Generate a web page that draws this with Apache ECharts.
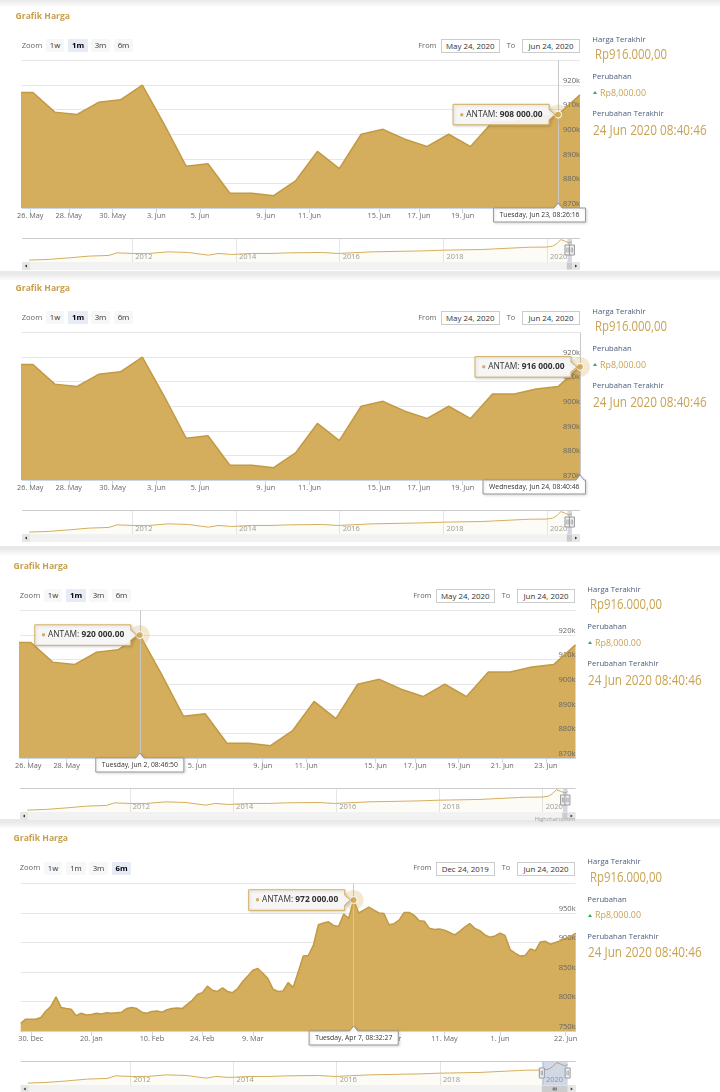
<!DOCTYPE html>
<html>
<head>
<meta charset="utf-8">
<title>Grafik Harga</title>
<script src="https://cdn.jsdelivr.net/npm/echarts@6/dist/echarts.min.js"></script>
<style>
  html, body { margin:0; padding:0; width:720px; height:1092px; overflow:hidden; background:#e9e9e9; font-family:"Open Sans", sans-serif; }
  .card { position:absolute; left:0; width:720px; background:#fff; overflow:hidden; }
  .shade { position:absolute; left:0; top:0; width:720px; height:7px; background:linear-gradient(#e9e9e9, rgba(255,255,255,0)); }
  .layer { position:absolute; left:0; width:720px; height:272px; }
  .chart { position:absolute; left:0; top:0; width:600px; height:272px; }
  .t { position:absolute; white-space:nowrap; line-height:1; transform:translateY(-50%); transform-origin:0 50%; }
  .btn { position:absolute; height:13px; line-height:13px; text-align:center; font-size:7.8px; color:#333; background:#f7f7f7; border-radius:1px; }
  .btn.sel { background:#e6ebf5; font-weight:bold; color:#000; }
  .inp { position:absolute; height:12px; line-height:12px; border:1px solid #cccccc; text-align:center; font-size:7.9px; color:#333; background:#fff; }
  .tri { position:absolute; width:0; height:0; border-left:2.5px solid transparent; border-right:2.5px solid transparent; border-bottom:3.5px solid #2fa84f; }
</style>
</head>
<body>
<script>
// ---------------- data ----------------
const PUBLISH_TIME = '08:40:00';
const dates1m = ['2020-05-23','2020-05-26','2020-05-27','2020-05-28','2020-05-29','2020-05-30','2020-06-02','2020-06-03','2020-06-04','2020-06-05','2020-06-06','2020-06-08','2020-06-09','2020-06-10','2020-06-11','2020-06-12','2020-06-13','2020-06-15','2020-06-16','2020-06-17','2020-06-18','2020-06-19','2020-06-20','2020-06-21','2020-06-22','2020-06-23','2020-06-24'];
const values1m = [917000,917000,909000,908000,913000,914000,920000,904000,887000,888000,876000,876000,875000,881000,893000,886000,900000,902000,898000,895000,900000,895000,905000,905000,907000,908000,916000];
const tickDates1m = ['2020-05-26','2020-05-28','2020-05-30','2020-06-03','2020-06-05','2020-06-09','2020-06-11','2020-06-15','2020-06-17','2020-06-19','2020-06-21','2020-06-23'];

const values6m = [763,770,770,770,773,784,792,808,790,788,
  787,776,780,777,778,780,779,781,780,781,
  782,788,790,788,782,780,783,784,782,786,
  788,789,788,795,802,812,815,826,819,817,
  823,817,815,822,834,843,853,856,848,839,
  821,817,818,832,824,850,877,878,895,930,
  933,935,929,927,948,941,972,950,955,960,
  955,950,949,930,932,938,951,951,946,937,
  936,924,922,923,921,917,913,919,926,932,
  924,920,913,909,911,916,912,888,882,877,
  878,889,886,901,902,897,900,903,907,910,916].map(v => v * 1000);
const ticks6mIndex = [2,14,26,36,46,60,73,84,95,108];
const ticks6mLabels = ['30. Dec','20. Jan','10. Feb','24. Feb','9. Mar','30. Mar','20. Apr','11. May','1. Jun','22. Jun'];

const navDates = ['2010-01-05','2010-05-20','2010-10-15','2011-03-01','2011-07-20','2011-09-15','2012-01-02','2012-04-25','2012-09-12','2013-02-01','2013-06-20','2013-08-28','2013-12-01','2014-04-20','2014-09-10','2015-01-05','2015-08-25','2015-12-20','2016-08-20','2017-08-10','2018-01-02','2018-10-05','2019-07-20','2019-09-05','2019-12-24','2020-02-10','2020-03-09','2020-03-20','2020-04-07','2020-04-20','2020-05-11','2020-06-05','2020-06-24'];
const navValues = [403,422,466,513,532,603,587,587,631,614,540,587,559,587,587,603,614,587,631,658,678,697,752,760,763,790,856,820,972,950,921,877,916].map(v => v * 1000);
const navYears = [2012, 2014, 2016, 2018, 2020];

const zoomButtons = ['1w','1m','3m','6m'];
const info = {
  lastPriceLabel: 'Harga Terakhir', lastPrice: 'Rp916.000,00',
  changeLabel: 'Perubahan', change: 'Rp8,000.00',
  lastChangeLabel: 'Perubahan Terakhir', lastChange: '24 Jun 2020 08:40:46'
};
const seriesName = 'ANTAM';

// screenshots (layout of each stacked capture)
const panels = [
  { card:[0,271], off:0, left:22, right:580, dxL:0, dxR:0, range:'1m', from:'May 24, 2020', to:'Jun 24, 2020', sel:'1m', navFrom:'2020-05-24', navTo:'2020-06-24', hover:{ i:25, time:'08:26:16' } },
  { card:[274,546], off:272, left:22, right:580, dxL:0, dxR:0, range:'1m', from:'May 24, 2020', to:'Jun 24, 2020', sel:'1m', navFrom:'2020-05-24', navTo:'2020-06-24', hover:{ i:26, time:'08:40:46' } },
  { card:[549,819], off:550, left:20, right:575.5, dxL:-2, dxR:-5, range:'1m', from:'May 24, 2020', to:'Jun 24, 2020', sel:'1m', navFrom:'2020-05-24', navTo:'2020-06-24', hover:{ i:6, time:'08:46:50' }, credit:true },
  { card:[822,1092], off:822.5, left:20.7, right:575.7, dxL:-2, dxR:-5, range:'6m', from:'Dec 24, 2019', to:'Jun 24, 2020', sel:'6m', navFrom:'2019-12-24', navTo:'2020-06-24', hover:{ i:66, date:'2020-04-07', time:'08:32:27' } }
];

// ---------------- helpers ----------------
const FONT = '"Open Sans", sans-serif';
const GOLD = '#d4ae5c', GOLD_LINE = '#c29a44', TEXT_GOLD = '#c9a352', LABEL_BLUE = '#4b5a79';
const DAYS = ['Sunday','Monday','Tuesday','Wednesday','Thursday','Friday','Saturday'];
const MON = ['Jan','Feb','Mar','Apr','May','Jun','Jul','Aug','Sep','Oct','Nov','Dec'];
const utc = s => Date.parse(s + 'T00:00:00Z');
const tickText = s => { const d = new Date(utc(s)); return d.getUTCDate() + '. ' + MON[d.getUTCMonth()]; };
const hcDate = (s, time) => { const d = new Date(utc(s)); return DAYS[d.getUTCDay()] + ', ' + MON[d.getUTCMonth()] + ' ' + d.getUTCDate() + ', ' + time; };
const fmtVal = v => Math.round(v).toString().replace(/\B(?=(\d{3})+(?!\d))/g, ' ') + '.00';
function ordinalPos(s) {
  const t = utc(s);
  for (let i = 0; i < dates1m.length - 1; i++) {
    const a = Date.parse(dates1m[i] + 'T' + PUBLISH_TIME + 'Z');
    const b = Date.parse(dates1m[i + 1] + 'T' + PUBLISH_TIME + 'Z');
    if (t >= a && t < b) return i + (t - a) / (b - a);
  }
  return null;
}
const mctx = document.createElement('canvas').getContext('2d');
function tw(text, size, weight) { mctx.font = (weight || 'normal') + ' ' + size + 'px ' + FONT; return mctx.measureText(text).width; }

function addText(parent, x, y, text, css, scale) {
  const d = document.createElement('div');
  d.className = 't';
  d.style.left = x + 'px'; d.style.top = y + 'px';
  Object.assign(d.style, css || {});
  if (scale) d.style.transform = 'translateY(-50%) scaleX(' + scale + ')';
  d.textContent = text;
  parent.appendChild(d);
  return d;
}

// ---------------- build ----------------
const NAV_MIN = utc('2009-11-15'), NAV_MAX = utc('2020-08-20');
const NAV_YMIN = 350000, NAV_YMAX = 1015000;
const navData = navDates.map((d, i) => [utc(d), navValues[i]]);
const navYearTs = navYears.map(y => Date.UTC(y, 0, 1));

panels.forEach(p => {
  const card = document.createElement('div');
  card.className = 'card';
  card.style.top = p.card[0] + 'px';
  card.style.height = (p.card[1] - p.card[0]) + 'px';
  const sh = document.createElement('div'); sh.className = 'shade'; card.appendChild(sh);
  document.body.appendChild(card);

  const layer = document.createElement('div');
  layer.className = 'layer';
  layer.style.top = p.off + 'px';
  document.body.appendChild(layer);

  const chartDiv = document.createElement('div');
  chartDiv.className = 'chart';
  layer.appendChild(chartDiv);

  // header texts
  addText(layer, 15.5 + p.dxL, 15.5, 'Grafik Harga', { fontSize:'8.6px', fontWeight:'bold', color:'#c9a04b' });
  addText(layer, 21.7 + p.dxL, 45.6, 'Zoom', { fontSize:'7.6px', color:'#666' });
  const bx = [45.7, 68.3, 91, 113.7], bw = [18.6, 19.4, 19, 19.6];
  zoomButtons.forEach((b, i) => {
    const e = document.createElement('div');
    e.className = 'btn' + (b === p.sel ? ' sel' : '');
    e.style.left = (bx[i] + p.dxL) + 'px'; e.style.top = '39.3px'; e.style.width = bw[i] + 'px';
    e.textContent = b;
    layer.appendChild(e);
  });
  addText(layer, 418.3 + p.dxR, 45.6, 'From', { fontSize:'7.4px', color:'#666' });
  addText(layer, 506.7 + p.dxR, 45.6, 'To', { fontSize:'7.4px', color:'#666' });
  [[441 + p.dxR, p.from], [521.7 + p.dxR, p.to]].forEach(([x, s]) => {
    const e = document.createElement('div');
    e.className = 'inp';
    e.style.left = x + 'px'; e.style.top = '39px'; e.style.width = '56.5px';
    e.textContent = s;
    layer.appendChild(e);
  });
  // right info column
  const rx = 592.3 + p.dxR;
  addText(layer, rx, 39.7, info.lastPriceLabel, { fontSize:'7.7px', color:LABEL_BLUE });
  addText(layer, rx + 2.4, 54, info.lastPrice, { fontSize:'14.4px', color:TEXT_GOLD }, 0.79);
  addText(layer, rx, 77.3, info.changeLabel, { fontSize:'7.7px', color:LABEL_BLUE });
  const tri = document.createElement('div'); tri.className = 'tri';
  tri.style.left = (rx + 0.7) + 'px'; tri.style.top = '91px'; layer.appendChild(tri);
  addText(layer, rx + 7.7, 92.8, info.change, { fontSize:'8.9px', color:TEXT_GOLD });
  addText(layer, rx, 114.3, info.lastChangeLabel, { fontSize:'7.7px', color:LABEL_BLUE });
  addText(layer, rx + 0.4, 129.5, info.lastChange, { fontSize:'14px', color:TEXT_GOLD }, 0.84);
  if (p.credit) {
    const c = addText(layer, 0, 269.5, 'Highcharts.com', { fontSize:'5.6px', color:'#999' });
    c.style.left = 'auto'; c.style.right = (720 - p.right) + 'px';
  }

  // chart
  const is6m = p.range === '6m';
  const vals = is6m ? values6m : values1m;
  const data = vals.map((v, i) => [i, v]);
  const ticks = is6m
    ? ticks6mIndex.map((k, i) => ({ v:k, t:ticks6mLabels[i] }))
    : tickDates1m.map(d => ({ v:ordinalPos(d), t:tickText(d) }));
  const xMin = is6m ? 0 : 0.5, xMax = vals.length - 1;
  const yMin = is6m ? 750000 : 870000, yMax = is6m ? 1000000 : 930000, yInt = is6m ? 50000 : 10000;
  const hx = p.hover.i, hv = vals[hx];
  const hoverDate = is6m ? p.hover.date : dates1m[hx];
  const dateText = hcDate(hoverDate, p.hover.time);
  const valueText = fmtVal(hv);
  const W = p.right - p.left;

  const chart = echarts.init(chartDiv, null, { renderer:'canvas' });
  chart.setOption({
    animation:false,
    textStyle:{ fontFamily:FONT },
    grid:[
      { left:p.left, top:60.5, width:W, height:147.5 },
      { left:p.left, top:238, width:W, height:24 }
    ],
    xAxis:[
      { type:'value', gridIndex:0, min:xMin, max:xMax, z:3,
        axisLine:{ lineStyle:{ color:'#ccd6eb', width:1 } },
        splitLine:{ show:false },
        axisTick:{ customValues:ticks.map(t => t.v), length:5, lineStyle:{ color:'#ccd6eb' } },
        axisLabel:{ customValues:ticks.map(t => t.v), color:'#666', fontSize:7.3, margin:4.5,
          formatter:v => { const t = ticks.find(q => Math.abs(q.v - v) < 1e-6); return t ? t.t : ''; } } },
      { type:'value', gridIndex:1, min:NAV_MIN, max:NAV_MAX,
        axisLine:{ show:false },
        axisTick:{ show:false, customValues:navYearTs },
        splitLine:{ show:true, lineStyle:{ color:'#e6e6e6' } },
        axisLabel:{ inside:true, customValues:navYearTs, align:'left', padding:[0,0,0,3],
          margin:1.5, color:'#999', fontSize:7.5, formatter:v => String(new Date(v).getUTCFullYear()) } }
    ],
    yAxis:[
      { type:'value', gridIndex:0, min:yMin, max:yMax, interval:yInt, position:'right',
        axisLine:{ show:false }, axisTick:{ show:false }, axisLabel:{ show:false },
        splitLine:{ lineStyle:{ color:'#e6e6e6' } } },
      { type:'value', gridIndex:0, min:yMin, max:yMax, interval:yInt, position:'right', z:3,
        axisLine:{ show:false }, axisTick:{ show:false }, splitLine:{ show:false },
        axisLabel:{ inside:true, align:'right', verticalAlign:'bottom', margin:0, color:'#666', fontSize:7.6, lineHeight:9,
          formatter:v => v >= yMax ? '' : (v / 1000) + 'k' } },
      { type:'value', gridIndex:1, min:NAV_YMIN, max:NAV_YMAX, show:false }
    ],
    series:[
      { type:'line', name:seriesName, xAxisIndex:0, yAxisIndex:0, data:data, symbol:'none', silent:true,
        lineStyle:{ color:GOLD_LINE, width:1.5 },
        areaStyle:{ color:GOLD, opacity:1, origin:'start' },
        markLine:{ silent:true, symbol:['none','none'], label:{ show:false },
          lineStyle:{ color:'#c8c8c8', width:1, type:'solid' }, data:[{ xAxis:hx }] },
        markPoint:{ silent:true, label:{ show:false },
          data:[
            { coord:[hx, hv], symbol:'circle', symbolSize:20, itemStyle:{ color:'rgba(212,174,92,0.28)' } },
            { coord:[hx, hv], symbol:'circle', symbolSize:7, itemStyle:{ color:GOLD, borderColor:'#fff', borderWidth:1 } }
          ] } },
      { type:'line', xAxisIndex:1, yAxisIndex:2, data:navData, symbol:'none', silent:true,
        lineStyle:{ color:GOLD, width:1 },
        areaStyle:{ color:'rgba(212,174,92,0.08)', origin:'start' } }
    ]
  });

  // ----- overlays positioned through the chart scales -----
  const g = [];
  const [px, py] = chart.convertToPixel({ xAxisIndex:0, yAxisIndex:0 }, [hx, hv]);
  const yBot = chart.convertToPixel({ yAxisIndex:0 }, yMin);
  const fs = 8.4, padX = 6.5, th = 20.5;
  const tWidth = tw('\u25CF', fs * 0.9) + tw(' ' + seriesName + ': ', fs) + tw(valueText, fs, 'bold') + 2 * padX;
  const R = px - 9, L = R - tWidth, T = py - th / 2, B = py + th / 2;
  g.push({ type:'polygon', z:100, silent:true,
    shape:{ points:[[L,T],[R,T],[R,py - 5],[px - 3,py],[R,py + 5],[R,B],[L,B]] },
    style:{ fill:'rgba(249,249,249,0.93)', stroke:GOLD, lineWidth:1, shadowBlur:3, shadowColor:'rgba(0,0,0,0.18)', shadowOffsetX:1, shadowOffsetY:1 } });
  g.push({ type:'text', z:101, silent:true, x:L + padX, y:py,
    style:{ text:'{d|\u25CF}{n| ' + seriesName + ': }{b|' + valueText + '}', align:'left', verticalAlign:'middle',
      rich:{ d:{ fill:GOLD, fontSize:fs * 0.9, fontFamily:FONT }, n:{ fill:'#333', fontSize:fs, fontFamily:FONT }, b:{ fill:'#333', fontSize:fs, fontWeight:'bold', fontFamily:FONT } } } });
  const dfs = 6.8, dh = 14, dpad = 6;
  const dw = tw(dateText, dfs) + 2 * dpad;
  const DR = Math.min(px + dw / 2, p.right + 5.5), DL = DR - dw, DT = yBot, DB = yBot + dh;
  g.push({ type:'polygon', z:100, silent:true,
    shape:{ points:[[DL,DT],[px - 4,DT],[px,DT - 5],[Math.min(px + 4, DR),DT],[DR,DT],[DR,DB],[DL,DB]] },
    style:{ fill:'#fff', stroke:'#999', lineWidth:1, shadowBlur:3, shadowColor:'rgba(0,0,0,0.15)', shadowOffsetX:1, shadowOffsetY:1 } });
  g.push({ type:'text', z:101, silent:true, x:(DL + DR) / 2, y:(DT + DB) / 2,
    style:{ text:dateText, align:'center', verticalAlign:'middle', fill:'#333', fontSize:dfs, fontFamily:FONT } });

  const nx0 = chart.convertToPixel({ xAxisIndex:1 }, utc(p.navFrom));
  const nx1 = chart.convertToPixel({ xAxisIndex:1 }, utc(p.navTo));
  const nTop = chart.convertToPixel({ yAxisIndex:2 }, NAV_YMAX);
  const nBot = chart.convertToPixel({ yAxisIndex:2 }, NAV_YMIN);
  const nMid = (nTop + nBot) / 2;
  g.push({ type:'rect', z:50, silent:true, shape:{ x:nx0, y:nTop, width:nx1 - nx0, height:nBot - nTop }, style:{ fill:'rgba(102,133,194,0.3)' } });
  g.push({ type:'line', z:51, silent:true, shape:{ x1:p.left, y1:nTop + 0.5, x2:p.right, y2:nTop + 0.5 }, style:{ stroke:'#cccccc', lineWidth:1 } });
  [nx0, nx1].forEach(nx => {
    g.push({ type:'rect', z:52, silent:true, shape:{ x:nx - 2.5, y:nMid - 5, width:5, height:10 }, style:{ fill:'#f2f2f2', stroke:'#999', lineWidth:1 } });
    g.push({ type:'line', z:53, silent:true, shape:{ x1:nx - 0.7, y1:nMid - 2.5, x2:nx - 0.7, y2:nMid + 2.5 }, style:{ stroke:'#999', lineWidth:0.8 } });
    g.push({ type:'line', z:53, silent:true, shape:{ x1:nx + 0.7, y1:nMid - 2.5, x2:nx + 0.7, y2:nMid + 2.5 }, style:{ stroke:'#999', lineWidth:0.8 } });
  });
  const sy = nBot, sH = 8;
  g.push({ type:'rect', z:50, silent:true, shape:{ x:p.left, y:sy, width:W, height:sH }, style:{ fill:'#f2f2f2' } });
  g.push({ type:'rect', z:51, silent:true, shape:{ x:p.left, y:sy, width:8, height:sH }, style:{ fill:'#e6e6e6' } });
  g.push({ type:'rect', z:51, silent:true, shape:{ x:p.right - 8, y:sy, width:8, height:sH }, style:{ fill:'#e6e6e6' } });
  g.push({ type:'polygon', z:52, silent:true, shape:{ points:[[p.left + 2.8, sy + 4],[p.left + 5, sy + 2.6],[p.left + 5, sy + 5.4]] }, style:{ fill:'#333' } });
  g.push({ type:'polygon', z:52, silent:true, shape:{ points:[[p.right - 2.8, sy + 4],[p.right - 5, sy + 2.6],[p.right - 5, sy + 5.4]] }, style:{ fill:'#333' } });
  let tx0 = nx0, tx1 = nx1;
  if (tx1 - tx0 < 6) { const c = (tx0 + tx1) / 2; tx0 = c - 3; tx1 = c + 3; }
  tx1 = Math.min(tx1, p.right - 8);
  g.push({ type:'rect', z:51, silent:true, shape:{ x:tx0, y:sy + 0.5, width:tx1 - tx0, height:sH - 1 }, style:{ fill:'#cccccc' } });
  if (tx1 - tx0 > 12) {
    const c = (tx0 + tx1) / 2;
    [-1.5, 0, 1.5].forEach(o => g.push({ type:'line', z:52, silent:true, shape:{ x1:c + o, y1:sy + 2.5, x2:c + o, y2:sy + 5.5 }, style:{ stroke:'#333', lineWidth:0.7 } }));
  }
  chart.setOption({ graphic:g });
});
</script>
</body>
</html>
